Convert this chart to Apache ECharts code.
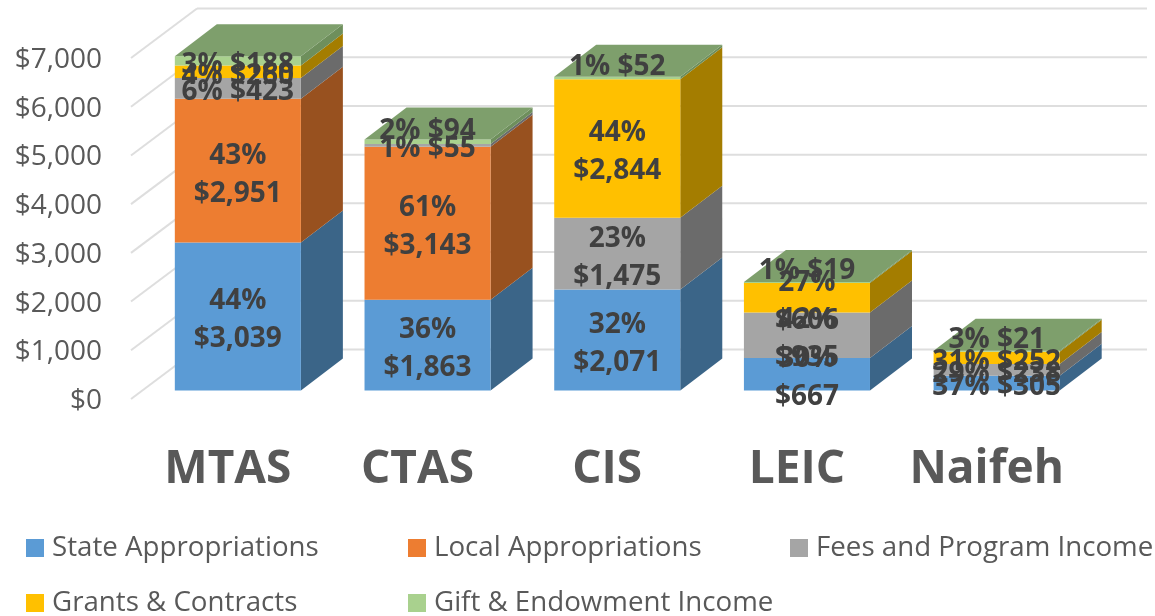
<!DOCTYPE html>
<html><head><meta charset="utf-8">
<style>html,body{margin:0;padding:0;background:#fff}#c{width:1155px;height:616px}</style>
<script src="https://cdn.jsdelivr.net/npm/echarts@6/dist/echarts.min.js"></script>
</head><body><div id="c"></div>
<script>
const categories = ['MTAS','CTAS','CIS','LEIC','Naifeh'];
const stateVals  = [3039,1863,2071,667,305];
const localVals  = [2951,3143,0,0,0];
const feesVals   = [423,55,1475,935,238];
const grantVals  = [260,0,2844,606,252];
const giftVals   = [188,94,52,19,21];
const statePct   = [44,36,32,30,37];
const localPct   = [43,61,0,0,0];
const feesPct    = [6,1,23,42,29];
const grantPct   = [4,0,44,27,31];
const giftPct    = [3,2,1,1,3];
const ticks = [0,1000,2000,3000,4000,5000,6000,7000];
const names = ['State Appropriations','Local Appropriations','Fees and Program Income','Grants & Contracts','Gift & Endowment Income'];
const valueSets = [stateVals,localVals,feesVals,grantVals,giftVals];
const pctSets = [statePct,localPct,feesPct,grantPct,giftPct];
const front = ['#5b9bd5','#ed7d31','#a5a5a5','#ffc000','#a9d18e'];
const side  = ['#3b6588','#98511f','#6b6b6b','#a47d00','#6e8f5c'];
const topCol = '#7e9f6c';
const DX=42, DY=-32;
const FS = "'Open Sans'";
const money = v => '$'+v.toLocaleString('en-US');

function topIndex(c){ let t=0; valueSets.forEach((s,i)=>{ if(s[c]>0) t=i; }); return t; }

function makeSeries(si){
  const data = categories.map((_,c)=>{
    let base=0; for(let k=0;k<si;k++) base+=valueSets[k][c];
    return [c, valueSets[si][c], base];
  });
  return {
    type:'custom', name:names[si], coordinateSystem:'cartesian2d', xAxisIndex:0, yAxisIndex:0, z:3,
    itemStyle:{color:front[si]},
    encode:{x:0,y:[1,2]}, clip:false, silent:true, animation:false,
    data,
    renderItem(params,api){
      const c=api.value(0), v=api.value(1), b=api.value(2);
      if(!v) return {type:'group',children:[]};
      const w=api.size([1,0])[0]*0.6645;
      const p0=api.coord([c,b]), p1=api.coord([c,b+v]);
      const xl=p0[0]-w/2, xr=p0[0]+w/2, y0=p0[1], y1=p1[1];
      const kids=[
        {type:'polygon',z2:1,shape:{points:[[xr,y0],[xr+DX,y0+DY],[xr+DX,y1+DY],[xr,y1]]},style:{fill:side[si]}},
        {type:'rect',z2:2,shape:{x:xl,y:y1,width:w,height:y0-y1},style:{fill:front[si]}}
      ];
      if(topIndex(c)===si){
        kids.push({type:'polygon',z2:3,shape:{points:[[xl,y1],[xl+DX,y1+DY],[xr+DX,y1+DY],[xr,y1]]},style:{fill:topCol}});
      }
      const twoLine=v>=500;
      const nudge = 4 + (si===4 && v<100 ? -15 : 0);
      kids.push({type:'text',z2:20,style:{
        text:pctSets[si][c]+'%'+(twoLine?'\n':' ')+money(v),
        x:p0[0], y:(y0+y1)/2+nudge, align:'center', verticalAlign:'middle',
        font:"bold 28px "+FS, fill:'#404040', lineHeight:38
      }});
      return {type:'group',children:kids};
    }
  };
}

const wallSeries = {
  type:'custom', coordinateSystem:'cartesian2d', xAxisIndex:1, yAxisIndex:1, z:1, silent:true, clip:false, animation:false,
  encode:{y:0}, data:ticks.map(t=>[t]),
  renderItem(params,api){
    const cs=params.coordSys;
    const y=api.coord([0,api.value(0)])[1]-2;
    const stroke={stroke:'#dedede',lineWidth:2,fill:null};
    return {type:'group',children:[
      {type:'line',shape:{x1:cs.x,y1:y,x2:cs.x+66,y2:y-49.5},style:stroke},
      {type:'line',shape:{x1:cs.x+66,y1:y-49.5,x2:cs.x+cs.width+66,y2:y-49.5},style:stroke}
    ]};
  }
};

const legendPos=[[26,534],[408,534],[790,534],[26,589],[408,589]];
const option={
  animation:false, backgroundColor:'#fff',
  grid:[
    {left:143,width:948.5,top:49.5,height:341},
    {left:131,width:950,top:60,height:341}
  ],
  xAxis:[
    {type:'category',gridIndex:0,data:categories,axisLine:{show:false},axisTick:{show:false},splitLine:{show:false},
     axisLabel:{margin:56,fontFamily:FS,fontWeight:'bold',fontSize:46,color:'#595959',padding:[0,20,0,0],interval:0}},
    {type:'category',gridIndex:1,data:categories,show:false}
  ],
  yAxis:[
    {type:'value',gridIndex:0,min:0,max:7000,interval:1000,show:false},
    {type:'value',gridIndex:1,min:0,max:7000,interval:1000,axisLine:{show:false},axisTick:{show:false},splitLine:{show:false},
     axisLabel:{margin:29,fontFamily:FS,fontSize:28,color:'#595959',formatter:v=>money(v)}}
  ],
  legend:names.map((n,i)=>({data:[n],left:legendPos[i][0],top:legendPos[i][1],icon:'rect',itemWidth:18,itemHeight:18,itemGap:0,padding:0,selectedMode:false,
    textStyle:{fontFamily:FS,fontSize:27.7,color:'#595959',padding:[0,0,0,3]}})),
  series:[wallSeries].concat(names.map((_,i)=>makeSeries(i)))
};
echarts.init(document.getElementById('c'),null,{renderer:'canvas'}).setOption(option);
</script></body></html>
